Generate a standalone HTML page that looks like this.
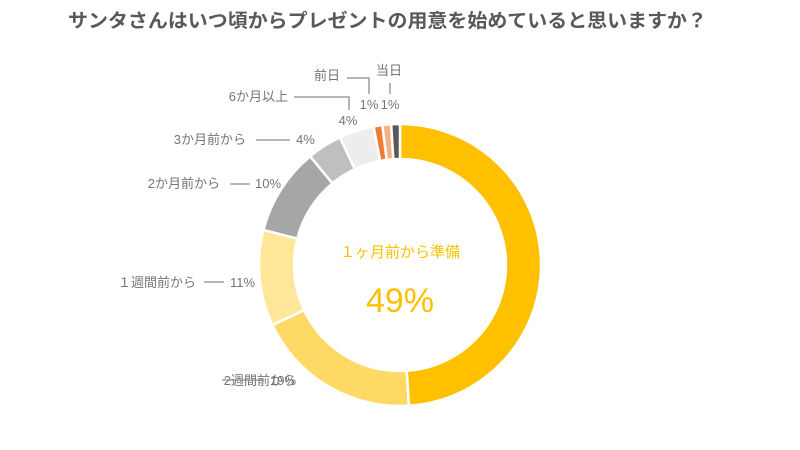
<!DOCTYPE html>
<html><head><meta charset="utf-8">
<style>
html,body{margin:0;padding:0;background:#fff;}
svg{display:block;font-family:"Liberation Sans","Noto Sans CJK JP",sans-serif;}
</style></head>
<body>
<svg id="chart" width="800" height="450" viewBox="0 0 800 450">
<text x="68" y="27" font-size="19" font-weight="bold" fill="#595959" textLength="639" lengthAdjust="spacingAndGlyphs">サンタさんはいつ頃からプレゼントの用意を始めていると思いますか？</text>
<g id="slices"></g>
<g id="labels" font-size="13" fill="#757575"></g>
<text x="400" y="257" text-anchor="middle" font-size="15" fill="#FFC000">１ヶ月前から準備</text>
<text x="400" y="312" text-anchor="middle" font-size="34" fill="#FFC000">49%</text>
</svg>
<script>
const categories = ["１ヶ月前から準備","2週間前から","１週間前から","2か月前から","3か月前から","6か月以上","前日","","当日"];
const values = [49,19,11,10,4,4,1,1,1];
const colors = ["#FFC000","#FFD966","#FFE699","#A6A6A6","#BFBFBF","#EDEDED","#ED7D31","#F4B183","#595959"];
const cx=400, cy=265, rOut=141, rIn=106;
const total = values.reduce((a,b)=>a+b,0);
const NS="http://www.w3.org/2000/svg";
function angle(v){return v/total*2*Math.PI;}
function pt(a,r){return [cx+r*Math.sin(a), cy-r*Math.cos(a)];}
const g=document.getElementById('slices');
let acc=0;
values.forEach((v,i)=>{
  const a0=angle(acc), a1=angle(acc+v); acc+=v;
  const large=(a1-a0)>Math.PI?1:0;
  const p0=pt(a0,rOut),p1=pt(a1,rOut),q1=pt(a1,rIn),q0=pt(a0,rIn);
  const d=`M${p0[0]},${p0[1]}A${rOut},${rOut} 0 ${large} 1 ${p1[0]},${p1[1]}L${q1[0]},${q1[1]}A${rIn},${rIn} 0 ${large} 0 ${q0[0]},${q0[1]}Z`;
  const p=document.createElementNS(NS,'path');
  p.setAttribute('d',d);p.setAttribute('fill',colors[i]);
  p.setAttribute('stroke','#fff');p.setAttribute('stroke-width','2.5');
  
  
  g.appendChild(p);
});
// label layout (positions only; text from arrays)
const lab=document.getElementById('labels');
function txt(x,y,s,anchor,name){
  const t=document.createElementNS(NS,'text');
  t.setAttribute('x',x);t.setAttribute('y',y);t.setAttribute('text-anchor',anchor||'start');
  t.textContent=s;
  
  
  lab.appendChild(t);
}
function line(pts,name){
  const l=document.createElementNS(NS,'polyline');
  l.setAttribute('points',pts);l.setAttribute('fill','none');l.setAttribute('stroke','#8c8c8c');l.setAttribute('stroke-width','1.3');
  
  
  lab.appendChild(l);
}
const pct=i=>values[i]+'%';
txt(296,385,categories[1]+'','end','label-2weeks-name'); txt(270,385,pct(1),'start','label-2weeks-value'); line('222,380 264,380','leader-2weeks');
txt(196,287,categories[2],'end','label-1week-name'); txt(230,287,pct(2),'start','label-1week-value'); line('204,282 224,282','leader-1week');
txt(220,188,categories[3],'end','label-2months-name'); txt(255,188,pct(3),'start','label-2months-value'); line('230,184 250,184','leader-2months');
txt(246,144,categories[4],'end','label-3months-name'); txt(296,144,pct(4),'start','label-3months-value'); line('256,140 290,140','leader-3months');
txt(288,101,categories[5],'end','label-6months-name'); txt(348,125,pct(5),'middle','label-6months-value'); line('294,97 349,97 349,110','leader-6months');
txt(340,80,categories[6],'end','label-prev-day-name'); txt(369,109,pct(6),'middle','label-prev-day-value'); line('347,78 369,78 369,94','leader-prev-day');
txt(389,75,categories[8],'middle','label-same-day-name'); txt(390,109,pct(8),'middle','label-same-day-value'); line('390,83 390,94','leader-same-day');
</script>
</body></html>
